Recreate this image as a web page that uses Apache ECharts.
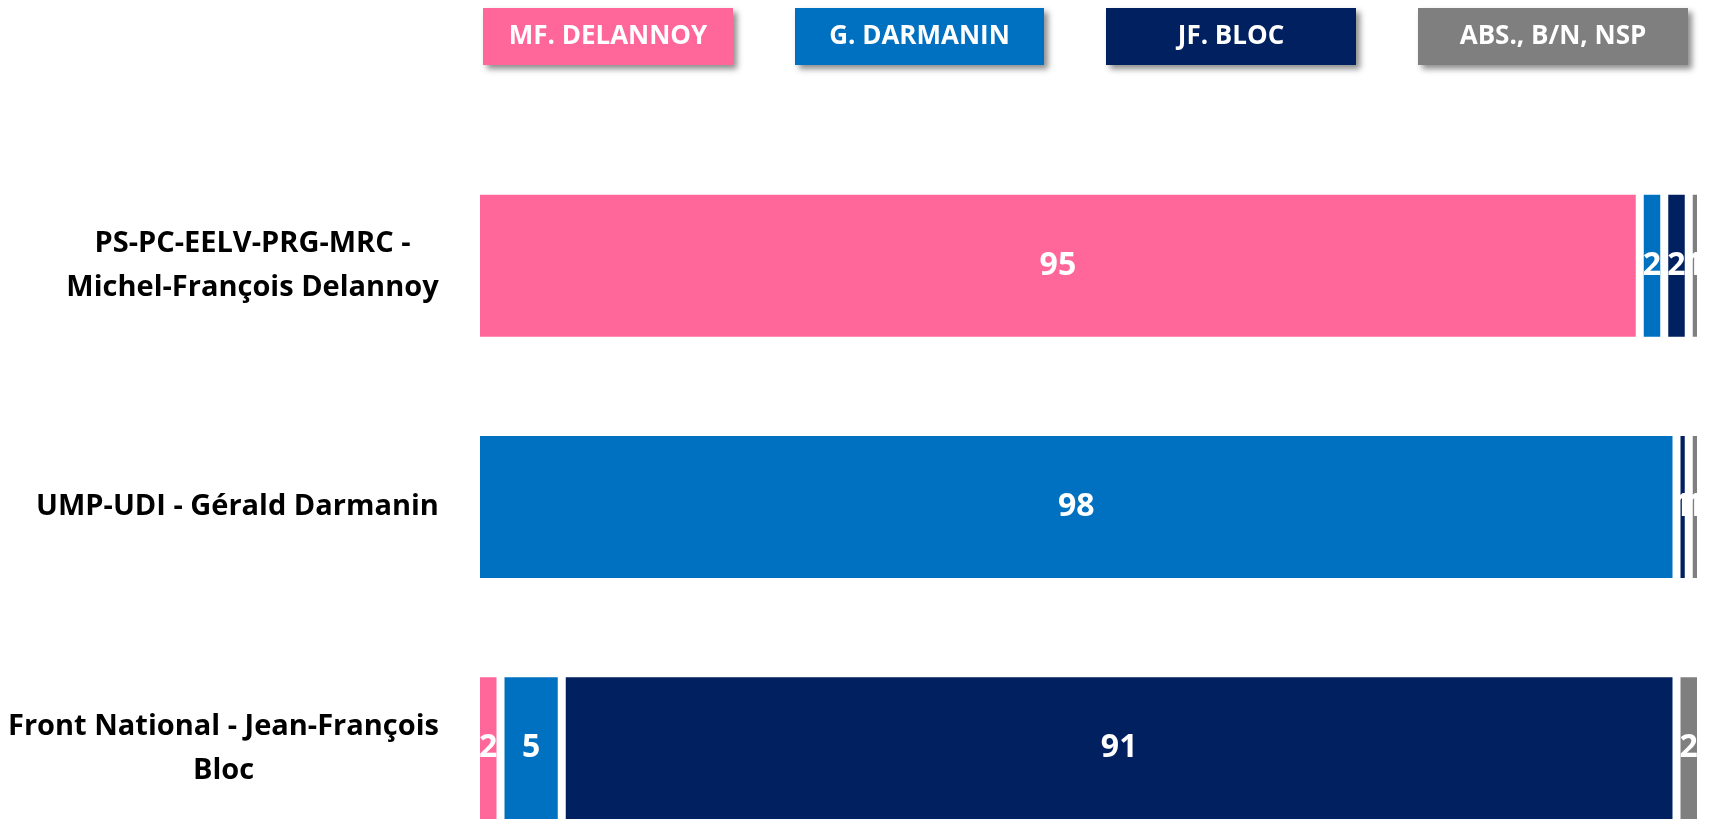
<!DOCTYPE html>
<html>
<head>
<meta charset="utf-8">
<script src="https://cdn.jsdelivr.net/npm/echarts@6/dist/echarts.min.js"></script>
<style>
    body { margin: 0; background: #fff; }
    #chart { width: 1709px; height: 819px; }
</style>
</head>
<body>
<div id="chart"></div>
<script>
// categories (top to bottom)
const categories = [
    'PS-PC-EELV-PRG-MRC -\nMichel-François Delannoy',
    'UMP-UDI - Gérald Darmanin',
    'Front National - Jean-François\nBloc'
]
const seriesNames = ['MF. DELANNOY', 'G. DARMANIN', 'JF. BLOC', 'ABS., B/N, NSP']
const delannoy = [95, 0, 2]
const darmanin = [2, 98, 5]
const bloc = [2, 1, 91]
const abstention = [1, 1, 2]

const colors = ['#FF6699', '#0070C0', '#002060', '#7F7F7F']
const legendWidths = [250, 249, 250, 270]
const fontFamily = '"Open Sans", "DejaVu Sans", sans-serif'
const catFont = 29

// widest line of each category label, so multi-line labels are centered in their block
const ctx = document.createElement('canvas').getContext('2d')
ctx.font = 'bold ' + catFont + 'px "Open Sans"'
const rich = {}
categories.forEach(function(c, i) {
    let w = Math.max.apply(null, c.split('\n').map(s => ctx.measureText(s).width))
    rich['c' + i] = {
        width: Math.ceil(w) + 2,
        align: 'center',
        fontFamily: fontFamily,
        fontWeight: 'bold',
        fontSize: catFont,
        lineHeight: 44,
        color: '#000'
    }
})

// legend boxes: text centered inside a coloured block
const legendRich = {}
seriesNames.forEach(function(n, i) {
    legendRich['l' + i] = {
        color: '#fff',
        fontFamily: fontFamily,
        fontWeight: 'bold',
        fontSize: 26,
        backgroundColor: colors[i],
        width: legendWidths[i],
        height: 57,
        lineHeight: 57,
        align: 'center',
        shadowColor: 'rgba(0,0,0,0.45)',
        shadowBlur: 6,
        shadowOffsetX: 4,
        shadowOffsetY: 4
    }
})

const values = [delannoy, darmanin, bloc, abstention]

let chart = echarts.init(document.getElementById('chart'))
chart.setOption({
    animation: false,
    color: colors,
    legend: {
        top: 3,
        left: 473,
        itemGap: 57,
        itemWidth: 0,
        itemHeight: 57,
        icon: 'none',
        selectedMode: false,
        data: seriesNames,
        formatter: function(name) {
            return '{l' + seriesNames.indexOf(name) + '|' + name + '}'
        },
        textStyle: {
            rich: legendRich
        }
    },
    grid: {
        left: 476,
        right: 8,
        top: 145,
        height: 724,
        containLabel: false,
        outerBoundsMode: 'none'
    },
    xAxis: {
        type: 'value',
        min: 0,
        max: 100,
        show: false
    },
    yAxis: {
        type: 'category',
        inverse: true,
        data: categories,
        axisLine: { show: false },
        axisTick: { show: false },
        axisLabel: {
            margin: 36,
            formatter: function(value, index) {
                return value.split('\n').map(s => '{c' + index + '|' + s + '}').join('\n')
            },
            rich: rich
        }
    },
    series: seriesNames.map((n, i) => ({
        name: n,
        type: 'bar',
        stack: 'total',
        barWidth: 150,
        data: values[i],
        itemStyle: {
            borderColor: '#fff',
            borderWidth: 4
        },
        label: {
            show: true,
            position: 'inside',
            color: '#fff',
            fontFamily: fontFamily,
            fontWeight: 'bold',
            fontSize: 32,
            formatter: p => (p.value ? p.value : '')
        }
    }))
})
</script>
</body>
</html>
